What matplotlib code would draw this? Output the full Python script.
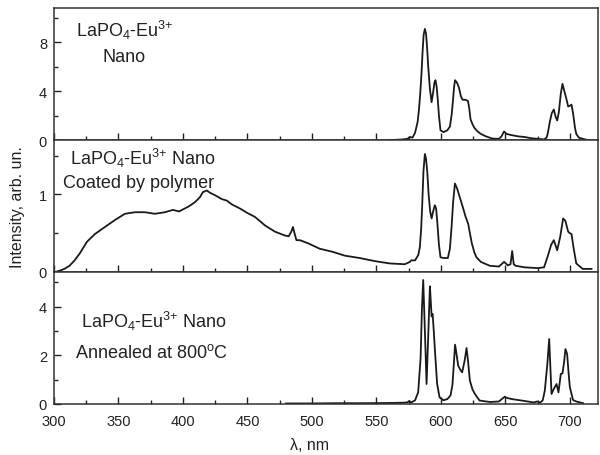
import numpy as np
import matplotlib.pyplot as plt
from matplotlib.ticker import MultipleLocator

plt.rcParams['font.family'] = ['Liberation Sans', 'DejaVu Sans']
plt.rcParams['mathtext.fontset'] = 'custom'
plt.rcParams['mathtext.rm'] = 'Liberation Sans'
plt.rcParams['mathtext.it'] = 'Liberation Sans'

# top panel: LaPO4-Eu3+ nano
wl_nano = [559, 565, 570, 574, 576, 578, 580, 582, 583, 584, 585, 585.8, 586.6, 587.6, 588.5, 589.3, 590.2, 591.5, 592.8,
           594, 595, 595.8, 596.7, 597.6, 598.5, 599.7, 602, 605, 607, 608.5, 609.5, 610.3, 611, 612.5, 614, 615.5, 616.8,
           619, 621, 622, 623, 624.5, 626, 628, 631, 635, 640, 645, 647, 649, 651, 655, 660, 665,
           670, 675, 680, 682, 683, 684.5, 686, 687.6, 689, 690.2, 691.5, 693, 694.3, 696, 697.5,
           698.7, 700, 701.3, 702.5, 704, 705, 707, 710, 714]
I_nano = [0.0, 0.02, 0.05, 0.1, 0.25, 0.2, 0.6, 1.5, 2.5, 3.8, 5.5, 7.2, 8.6, 9.1, 8.7, 7.6, 6.0, 4.2, 3.1,
          3.9, 4.7, 4.9, 4.4, 3.3, 2.0, 0.8, 0.65, 0.8, 1.1, 2.2, 3.4, 4.4, 4.9, 4.7, 4.3, 3.6, 3.3,
          3.3, 3.2, 2.6, 1.7, 1.3, 1.0, 0.75, 0.5, 0.3, 0.12, 0.1, 0.3, 0.7, 0.5, 0.4, 0.3, 0.25,
          0.15, 0.1, 0.05, 0.2, 0.6, 1.5, 2.2, 2.5, 1.9, 1.6, 2.3, 3.8, 4.6, 3.9, 3.3,
          2.75, 2.8, 2.9, 2.2, 1.0, 0.5, 0.2, 0.1, 0.0]

# middle panel: coated by polymer
wl_coat = [301, 305, 308, 312, 316, 320, 325.6, 331.8, 339.5, 347.3, 355, 362.8, 370.5, 378.3, 386, 392.2,
           397, 401.6, 405, 409.3, 413, 415.5, 418.6, 421, 424.8, 430, 434, 438, 444, 450, 455.8,
           463.6, 471.3, 479, 482, 484, 485.3, 486.5, 488, 490.7, 497, 506, 516, 525.6, 537, 548.8,
           560.5, 572, 576, 577, 580, 582.5, 583.7, 584.7, 585.5, 586.5, 587.6, 588.5, 589.5, 590.5, 591.7, 592.8, 594, 595.3,
           596.3, 597.2, 598.5, 599.7, 602, 605.4, 607, 608.3, 609.5, 610.9, 612.5, 614, 617.3, 619, 621.2, 622.5,
           624, 626, 627.6, 631, 638, 645, 649, 652, 654, 655.3, 656.5, 658, 665, 675, 680, 683,
           685.5, 687.6, 690.2, 692.5, 694.8, 696.5, 698.7, 700, 701.3, 703, 705, 710, 716.8]
I_coat = [0.0, 0.02, 0.04, 0.08, 0.15, 0.24, 0.39, 0.49, 0.58, 0.67, 0.75, 0.77, 0.77, 0.75, 0.77, 0.8,
          0.78, 0.82, 0.85, 0.9, 0.96, 1.03, 1.05, 1.02, 0.99, 0.94, 0.92, 0.87, 0.82, 0.76, 0.71,
          0.6, 0.52, 0.47, 0.46, 0.52, 0.58, 0.5, 0.41, 0.41, 0.37, 0.3, 0.26, 0.21, 0.18, 0.14,
          0.11, 0.1, 0.13, 0.15, 0.15, 0.22, 0.32, 0.55, 0.85, 1.3, 1.52, 1.46, 1.28, 1.0, 0.78, 0.69, 0.78, 0.86,
          0.82, 0.65, 0.35, 0.19, 0.18, 0.18, 0.3, 0.58, 0.9, 1.14, 1.08, 1.0, 0.82, 0.72, 0.62, 0.5,
          0.37, 0.25, 0.19, 0.13, 0.08, 0.07, 0.13, 0.085, 0.1, 0.27, 0.1, 0.08, 0.06, 0.05, 0.06, 0.21,
          0.35, 0.41, 0.28, 0.45, 0.69, 0.66, 0.52, 0.5, 0.49, 0.3, 0.11, 0.04, 0.04]

# bottom panel: annealed at 800 C
wl_ann = [480, 500, 520, 540, 560, 570, 574, 575.4, 577, 580, 582.4, 584.3, 585.3, 586.3, 587.3, 588.9,
          590, 591.5, 592.2, 592.8, 593.6, 594.5, 595.4, 597.1, 599, 602, 605, 607.5, 609, 610, 611,
          612, 613.4, 614.7, 616.5, 618.5, 619.9, 621, 622.5, 624.5, 626.4, 630, 638, 645, 649.6,
          651, 655, 665, 672, 674.7, 677, 679, 680.6, 682.5, 684, 685, 685.8, 687.6, 689.7, 691.2,
          693, 694.3, 695.5, 696.6, 697.9, 699, 700, 702.5, 705, 710.3]
I_ann = [0.02, 0.02, 0.03, 0.03, 0.04, 0.05, 0.06, 0.12, 0.06, 0.15, 0.48, 1.9, 3.9, 5.1, 3.5, 0.82,
         2.5, 4.84, 4.2, 3.6, 3.7, 3.0, 2.2, 0.82, 0.27, 0.15, 0.2, 0.35, 0.8, 1.6, 2.44,
         2.1, 1.58, 1.44, 1.3, 1.8, 2.3, 1.8, 0.96, 0.6, 0.41, 0.14, 0.08, 0.1, 0.3,
         0.25, 0.2, 0.12, 0.06, 0.1, 0.05, 0.15, 0.55, 1.6, 2.67, 1.4, 0.41, 0.62, 0.82, 0.48,
         1.23, 1.26, 1.7, 2.26, 2.06, 1.3, 0.69, 0.16, 0.1, 0.03]

fig, axes = plt.subplots(3, 1, figsize=(6, 4.56), dpi=100, sharex=True)
fig.subplots_adjust(left=0.09, right=0.997, top=0.980, bottom=0.112, hspace=0)

lc = '#1a1a1a'
series = [(wl_nano, I_nano), (wl_coat, I_coat), (wl_ann, I_ann)]
ylims = [(0, 10.8), (0, 1.7), (0, 5.43)]
majors = [4, 1, 2]
minors = [2, 0.5, 1]

for ax, (x, y), yl, mj, mn in zip(axes, series, ylims, majors, minors):
    ax.plot(x, y, color=lc, lw=1.3)
    ax.set_xlim(300, 722)
    ax.set_ylim(*yl)
    ax.yaxis.set_major_locator(MultipleLocator(mj))
    ax.yaxis.set_minor_locator(MultipleLocator(mn))
    ax.xaxis.set_major_locator(MultipleLocator(50))
    ax.xaxis.set_minor_locator(MultipleLocator(25))
    ax.tick_params(which='both', direction='in', top=False, right=False,
                   labelsize=10.5, colors='#222222', width=1)
    ax.tick_params(which='major', length=5)
    ax.tick_params(which='minor', length=3)
    ax.tick_params(axis='y', pad=5)
    for s in ax.spines.values():
        s.set_linewidth(1.1)
        s.set_color('#333333')
axes[2].tick_params(axis='x', pad=7)

fs = 13
sup = 'LaPO$_4$-Eu$^{3{+}}$'
axes[0].text(0.13, 0.84, sup, transform=axes[0].transAxes,
             ha='center', va='center', fontsize=fs, color='#222222')
axes[0].text(0.128, 0.63, 'Nano', transform=axes[0].transAxes,
             ha='center', va='center', fontsize=fs, color='#222222')
axes[1].text(0.03, 0.87, sup + ' Nano', transform=axes[1].transAxes,
             ha='left', va='center', fontsize=fs, color='#222222')
axes[1].text(0.017, 0.68, 'Coated by polymer', transform=axes[1].transAxes,
             ha='left', va='center', fontsize=fs, color='#222222')
axes[2].text(0.05, 0.63, sup + ' Nano', transform=axes[2].transAxes,
             ha='left', va='center', fontsize=fs, color='#222222')
axes[2].text(0.039, 0.39, 'Annealed at 800$^\\mathrm{o}$C', transform=axes[2].transAxes,
             ha='left', va='center', fontsize=fs, color='#222222')

fig.text(0.03, 0.545, 'Intensity, arb. un.', rotation=90, ha='center', va='center',
         fontsize=11.5, color='#222222')
axes[2].set_xlabel('λ, nm', fontsize=11.5, color='#222222')
axes[2].xaxis.set_label_coords(0.47, -0.25)

fig.savefig('out.png', dpi=100)
